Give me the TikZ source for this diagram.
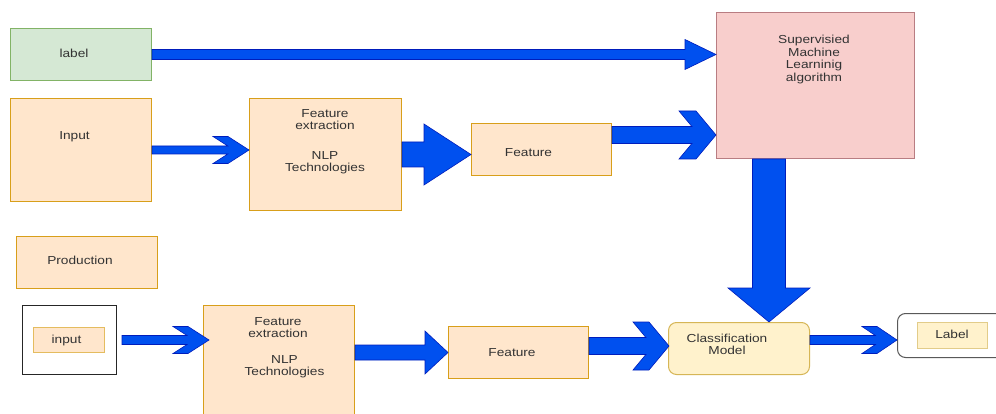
\documentclass[tikz,border=0pt]{standalone}
\usepackage{fontspec}
\setmainfont{Liberation Sans}[FakeStretch=1.18]
\usetikzlibrary{calc}
\definecolor{cBlue}{HTML}{0050EF}
\definecolor{cBlueEdge}{HTML}{001DBC}
\definecolor{cGreenBg}{HTML}{D5E8D4}
\definecolor{cGreenBorder}{HTML}{82B366}
\definecolor{cOrangeBg}{HTML}{FFE6CC}
\definecolor{cOrangeBorder}{HTML}{D89F1A}
\definecolor{cRedBg}{HTML}{F8CECC}
\definecolor{cRedBorder}{HTML}{B97D82}
\definecolor{cYellowBg}{HTML}{FFF2CC}
\definecolor{cYellowBorder}{HTML}{D6B656}
\definecolor{cText}{HTML}{333333}
\tikzset{
  box/.style={draw, line width=1pt, inner sep=0pt, anchor=north west},
  greenBox/.style={box, draw=cGreenBorder, fill=cGreenBg},
  orangeBox/.style={box, draw=cOrangeBorder, fill=cOrangeBg},
  redBox/.style={box, draw=cRedBorder, fill=cRedBg},
  yellowBox/.style={box, draw=cYellowBorder, fill=cYellowBg},
  frameBox/.style={box, draw=black!85, fill=white},
  txt/.style={font=\fontsize{11.6}{12.5}\selectfont, text=cText, align=center, inner sep=0pt},
  oneLine/.style={txt, text height=8.4pt, text depth=2.4pt},
  fatArrow/.style={fill=cBlue, draw=cBlueEdge, line width=0.6pt, line join=miter},
}
% start, tip, half shaft, half head, head length
\newcommand{\blockarrow}[5]{%
  \filldraw[fatArrow] let \p1=#1, \p2=#2 in
    (\x1,\y1+#3pt) -- (\x2-#5pt,\y1+#3pt) -- (\x2-#5pt,\y1+#4pt) -- (\x2,\y1)
    -- (\x2-#5pt,\y1-#4pt) -- (\x2-#5pt,\y1-#3pt) -- (\x1,\y1-#3pt) -- cycle;}
% start, tip, half shaft, half head, head length, barb
\newcommand{\chevronarrow}[6]{%
  \filldraw[fatArrow] let \p1=#1, \p2=#2 in
    (\x1,\y1+#3pt) -- (\x2-#6pt-#5pt*#3/#4,\y1+#3pt) -- (\x2-#5pt-#6pt,\y1+#4pt)
    -- (\x2-#5pt,\y1+#4pt) -- (\x2,\y1) -- (\x2-#5pt,\y1-#4pt) -- (\x2-#5pt-#6pt,\y1-#4pt)
    -- (\x2-#6pt-#5pt*#3/#4,\y1-#3pt) -- (\x1,\y1-#3pt) -- cycle;}

\begin{document}
\begin{tikzpicture}[x=1pt, y=-1pt]
\fill[white] (0,0) rectangle (996,414);
\useasboundingbox (0,0) rectangle (996,414);

% ========== TRAINING ==========
\node[greenBox, minimum width=141pt, minimum height=52pt] (lblbox) at (10,28) {};
\node[oneLine] (lbl-t) at (74,54.5) {label};

\node[orangeBox, minimum width=141pt, minimum height=103pt] (inbox) at (10,98) {};
\node[oneLine] (in-t) at (74.5,137) {Input};

\node[orangeBox, minimum width=152pt, minimum height=112pt] (fe1) at (249,98) {};
\node[txt] (fe1-a) at (325,119.5) {Feature\\extraction};
\node[txt] (fe1-b) at (325,162.5) {NLP\\Technologies};

\node[orangeBox, minimum width=140pt, minimum height=52pt] (feat1) at (471,123) {};
\node[oneLine] (feat1-t) at (528.5,154) {Feature};

\node[redBox, minimum width=198pt, minimum height=146pt] (sml) at (716,12) {};
\node[txt] (sml-t) at (814,59.5) {Supervisied\\Machine\\Learninig\\algorithm};

% ========== PRODUCTION ==========
\node[orangeBox, minimum width=141pt, minimum height=52pt] (prod) at (16,236) {};
\node[oneLine] (prod-t) at (80,262) {Production};

\node[frameBox, minimum width=94pt, minimum height=69pt] (inout) at (22,305) {};
\node[orangeBox, draw=cOrangeBorder!70, minimum width=71pt, minimum height=25pt] (inin) at (33,327) {};
\node[oneLine] (inin-t) at (66.5,340) {input};

\node[orangeBox, minimum width=151pt, minimum height=115pt] (fe2) at (203,305) {};
\node[txt] (fe2-a) at (278,327.5) {Feature\\extraction};
\node[txt] (fe2-b) at (284.5,366.5) {NLP\\Technologies};

\node[orangeBox, minimum width=140pt, minimum height=52pt] (feat2) at (448,326) {};
\node[oneLine] (feat2-t) at (512,353) {Feature};

\node[yellowBox, rounded corners=8pt, minimum width=141pt, minimum height=52pt] (cm) at (668,322) {};
\node[txt] (cm-t) at (727,344.5) {Classification\\Model};

\node[frameBox, draw=black!65, rounded corners=8pt, minimum width=110pt, minimum height=44pt] (lblout) at (897,313) {};
\node[yellowBox, draw=cYellowBorder!70, minimum width=70pt, minimum height=26pt] (lblin) at (917,322) {};
\node[oneLine] (lblin-t) at (952,335) {Label};

% ========== ARROWS ==========
\blockarrow{(lblbox.east)}{(sml.west)}{5}{15}{31}
\chevronarrow{(inbox.east)}{(fe1.west)}{4}{13.5}{21}{15}
\blockarrow{(fe1.east)}{(feat1.west)}{12.5}{30.5}{47}
\chevronarrow{([yshift=14.5pt]feat1.east)}{(sml.west)}{8.5}{24}{20}{17}

\coordinate (drop) at ([xshift=-46.5pt]sml.south);
\filldraw[fatArrow] let \p1=(drop), \p2=(drop |- cm.north) in
  (\x1-16.5pt,\y1) -- (\x1-16.5pt,\y2+34pt) -- (\x1-41pt,\y2+34pt) -- (\x1,\y2)
  -- (\x1+41pt,\y2+34pt) -- (\x1+16.5pt,\y2+34pt) -- (\x1+16.5pt,\y1) -- cycle;

\chevronarrow{([xshift=5pt]inout.east)}{([xshift=6pt]fe2.west)}{4.5}{13.5}{21}{15}
\blockarrow{(fe2.east |- feat2.west)}{(feat2.west)}{7.5}{21.5}{23}
\chevronarrow{([yshift=6.5pt]feat2.east)}{([xshift=1pt]cm.west)}{8.5}{24}{20}{16}
\chevronarrow{([yshift=8.5pt]cm.east)}{(lblout.west)}{4.5}{13.5}{20}{15}

\end{tikzpicture}
\end{document}
